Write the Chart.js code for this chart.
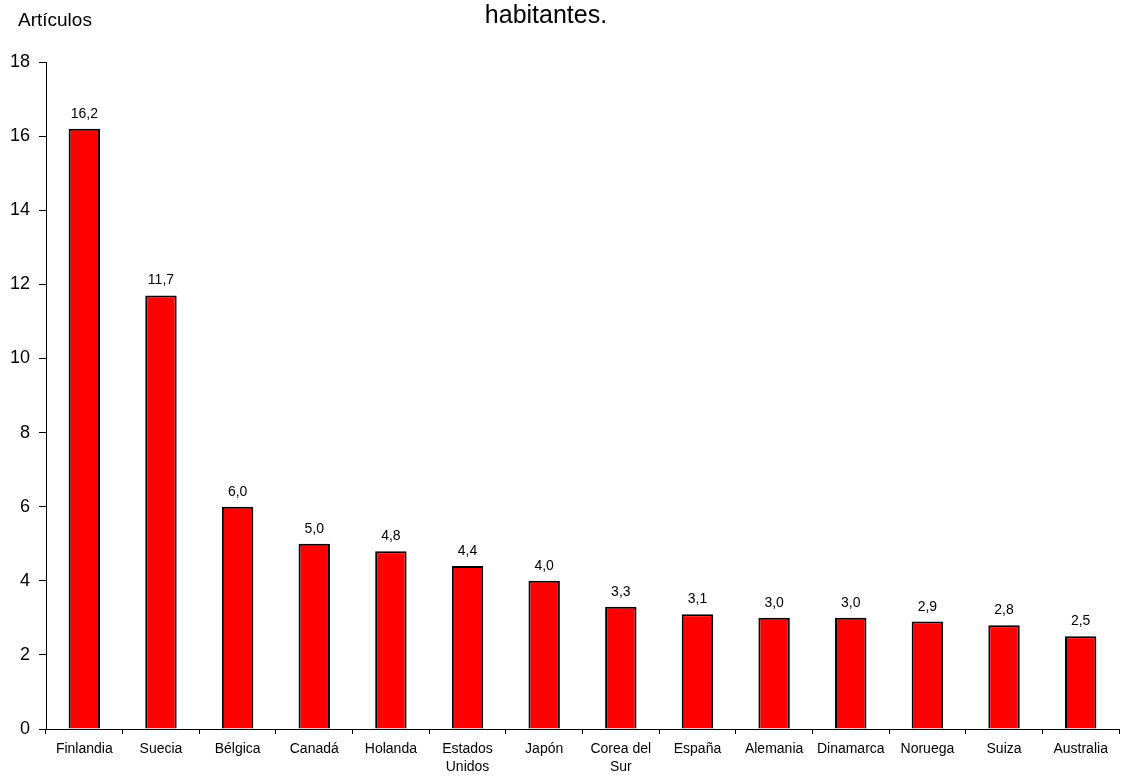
<!DOCTYPE html>
<html>
<head>
<meta charset="utf-8">
<script src="https://cdn.jsdelivr.net/npm/chart.js@4/dist/chart.umd.min.js"></script>
<style>
  html, body { margin: 0; padding: 0; background: #fff; }
  #wrap { width: 1127px; height: 776px; }
</style>
</head>
<body>
<div id="wrap"><canvas id="c" width="1127" height="776"></canvas></div>
<script>
// Articles per country (values shown above each bar)
const categories = ['Finlandia', 'Suecia', 'Bélgica', 'Canadá', 'Holanda', ['Estados', 'Unidos'], 'Japón',
  ['Corea del', 'Sur'], 'España', 'Alemania', 'Dinamarca', 'Noruega', 'Suiza', 'Australia'];
const articles = [16.2, 11.7, 6.0, 5.0, 4.8, 4.4, 4.0, 3.3, 3.1, 3.0, 3.0, 2.9, 2.8, 2.5];
const yMin = 0, yMax = 18, yStep = 2;
const titleText = 'habitantes.';
const unitText = 'Artículos';

const FONT = '"Liberation Sans", Arial, sans-serif';

// Value labels above bars, comma as decimal separator
const valueLabels = {
  id: 'valueLabels',
  afterDatasetsDraw(chart) {
    const ctx = chart.ctx;
    const meta = chart.getDatasetMeta(0);
    ctx.save();
    ctx.font = '14px ' + FONT;
    ctx.fillStyle = '#000';
    ctx.textAlign = 'center';
    ctx.textBaseline = 'alphabetic';
    meta.data.forEach((bar, i) => {
      const txt = articles[i].toFixed(1).replace('.', ',');
      ctx.fillText(txt, bar.x, bar.y - 11);
    });
    ctx.restore();
  }
};

// Title line and unit caption
const captions = {
  id: 'captions',
  afterDraw(chart) {
    const ctx = chart.ctx;
    ctx.save();
    ctx.fillStyle = '#000';
    ctx.textBaseline = 'alphabetic';
    ctx.font = '25px ' + FONT;
    ctx.textAlign = 'center';
    ctx.fillText(titleText, 546, 23);
    ctx.font = '19px ' + FONT;
    ctx.textAlign = 'left';
    ctx.fillText(unitText, 18, 26);
    ctx.restore();
  }
};

new Chart(document.getElementById('c'), {
  type: 'bar',
  data: {
    labels: categories,
    datasets: [{
      data: articles,
      backgroundColor: '#ff0000',
      borderColor: '#000000',
      borderWidth: 2,
      barPercentage: 0.41,
      categoryPercentage: 1.0
    }]
  },
  options: {
    responsive: false,
    animation: false,
    devicePixelRatio: 1,
    layout: { padding: { top: 62, right: 8, left: 0, bottom: 0 } },
    plugins: {
      legend: { display: false },
      tooltip: { enabled: false },
      title: { display: false }
    },
    scales: {
      x: {
        grid: { display: true, drawOnChartArea: false, offset: true, tickLength: 5, color: '#000', lineWidth: 1 },
        border: { color: '#000', width: 1 },
        ticks: { font: { family: FONT, size: 14, lineHeight: 1.3 }, color: '#000', maxRotation: 0, autoSkip: false, padding: 6 },
        afterFit(scale) { scale.height = 47; }
      },
      y: {
        min: yMin,
        max: yMax,
        grid: { display: true, drawOnChartArea: false, tickLength: 7, color: '#000', lineWidth: 1 },
        border: { color: '#000', width: 1 },
        ticks: { stepSize: yStep, font: { family: FONT, size: 18 }, color: '#000', padding: 9 },
        afterFit(scale) { scale.width = 46; }
      }
    }
  },
  plugins: [valueLabels, captions]
});
</script>
</body>
</html>
